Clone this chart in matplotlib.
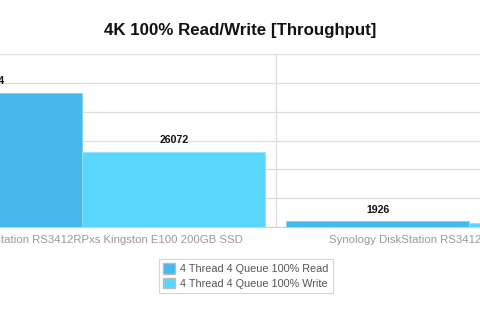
import numpy as np
import matplotlib.pyplot as plt
from matplotlib.patches import Patch

plt.rcParams['font.family'] = ['Liberation Sans', 'DejaVu Sans']

# data
categories = ['Synology DiskStation RS3412RPxs Kingston E100 200GB SSD',
              'Synology DiskStation RS3412RPxs Seagate 3TB SATA']
series_names = ['4 Thread 4 Queue 100% Read', '4 Thread 4 Queue 100% Write']
read_vals = [46584, 1926]
write_vals = [26072, 1300]

c_read = '#45b9ec'
c_write = '#5ad6fe'

fig = plt.figure(figsize=(4.8, 3.14), dpi=100)
# chart is cropped: the axes run past the figure edges on both sides
ax = fig.add_axes([-111.5 / 480, 87 / 314, 774.5 / 480, 173 / 314])

x = np.arange(len(categories))
w = 0.473
b1 = ax.bar(x - w / 2, read_vals, w, color=c_read, edgecolor='#7fd0f2', linewidth=0.6, zorder=3)
b2 = ax.bar(x + w / 2, write_vals, w, color=c_write, edgecolor='#8fe2fe', linewidth=0.6, zorder=3)

for bars, vals in ((b1, read_vals), (b2, [write_vals[0], None])):
    for r, v in zip(bars, vals):
        if v is None:
            continue
        ax.text(r.get_x() + r.get_width() / 2, v + 2400, str(v), ha='center', va='bottom',
                fontsize=7.6, fontweight='bold', color='#111111')

ax.set_xlim(-0.5, 1.5)
ax.set_ylim(0, 60000)
ax.set_yticks(np.arange(0, 60001, 10000))
ax.set_xticks([0.5], minor=True)
ax.set_xticks(x)
ax.set_xticklabels(categories, fontsize=8.2, color='#999999')
ax.tick_params(axis='x', which='both', length=0, pad=6)
ax.tick_params(axis='y', length=0, labelleft=False)
ax.grid(axis='y', color='#dddddd', linewidth=0.9, zorder=0)
ax.grid(axis='x', which='minor', color='#dddddd', linewidth=0.9, zorder=0)
for s in ['top', 'right', 'left']:
    ax.spines[s].set_visible(False)
ax.spines['bottom'].set_color('#d0d0d0')

fig.text(0.5, 1 - 30 / 314, '4K 100% Read/Write [Throughput]', ha='center', va='center',
         fontsize=12.2, fontweight='bold', color='#111111')

handles = [Patch(facecolor=c_read, edgecolor='#bbbbbb', label=series_names[0]),
           Patch(facecolor=c_write, edgecolor='#bbbbbb', label=series_names[1])]
leg = fig.legend(handles=handles, loc='center', bbox_to_anchor=(246 / 480, 1 - 276 / 314),
                 fontsize=7.8, frameon=True, fancybox=False, edgecolor='#cccccc',
                 handlelength=1.1, handleheight=1.1, handletextpad=0.5, borderpad=0.4,
                 labelspacing=0.35, labelcolor='#555555')
leg.get_frame().set_linewidth(0.8)

fig.savefig('out.png', dpi=100)
